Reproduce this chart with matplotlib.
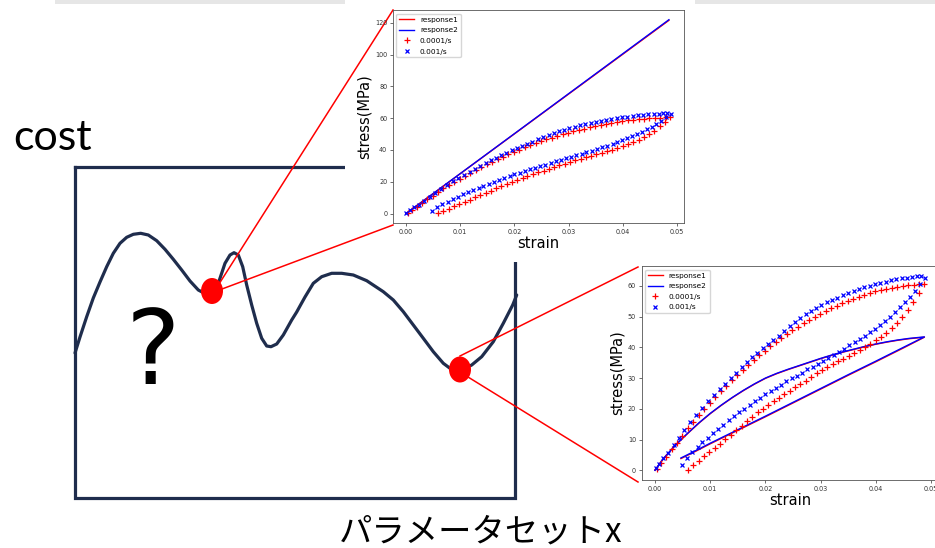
import matplotlib.pyplot as plt
from matplotlib.patches import Ellipse, Rectangle

'''sketch of a rugged cost landscape with two parameter sets zoomed into stress-strain fits'''

# ---- cost curve over parameter set x (canvas pixel units, y grows downward)
cost_x = [75, 80, 86.7, 93.3, 100, 106.7, 113.3, 120, 126.7, 133.3, 140.7, 148.3, 156.7, 165,
          173.3, 181.7, 190, 198.3, 203.3, 208, 213, 218.3, 225, 230, 234, 238.3, 242.7, 246.7,
          251.7, 256.7, 261.7, 266.7, 271, 276.7, 283.3, 291.7, 296.7, 300, 305, 313.3, 321.7,
          331.7, 341.7, 353.3, 366.7, 383.3, 393.3, 403.3, 413.3, 423.3, 433.3, 443.3, 450, 460,
          471.7, 481.7, 493.3, 503.3, 512.7, 516.7]
cost_y = [353, 337, 316.7, 298, 282, 266.7, 253.3, 243.3, 237.3, 234.3, 233.3, 235, 240.7, 249.3,
          259.3, 270, 281, 290, 292.7, 294, 291.5, 283.3, 263.3, 255, 252.7, 255, 266.7, 285,
          305, 323.3, 338.3, 346, 346.7, 344, 335, 320, 312, 306, 297, 283.3, 276.7,
          273.3, 273.3, 275, 280.7, 291.7, 300, 311.7, 325, 338.3, 351.7, 363.3, 368.3, 371,
          365, 356.7, 341.7, 323.3, 305, 295]

# the two sampled parameter sets on the curve
pick_x = [212, 460]
pick_y = [291, 369.5]

# ---- experimental data, 0.0001/s (red +)
slow_strain = [0.0003, 0.0011, 0.0020, 0.0030, 0.0039, 0.0049, 0.0059, 0.0069, 0.0079, 0.0089,
               0.0099, 0.0109, 0.0119, 0.0129, 0.0139, 0.0149, 0.0159, 0.0169, 0.0179, 0.0189,
               0.0199, 0.0209, 0.0219, 0.0229, 0.0239, 0.0249, 0.0259, 0.0269, 0.0279, 0.0289,
               0.0299, 0.0309, 0.0319, 0.0329, 0.0339, 0.0349, 0.0359, 0.0369, 0.0379, 0.0389,
               0.0399, 0.0409, 0.0419, 0.0429, 0.0439, 0.0449, 0.0459, 0.0469, 0.0479, 0.0487,
               0.0478, 0.0468, 0.0458, 0.0448, 0.0439, 0.0429, 0.0419, 0.0410, 0.0400, 0.0390,
               0.0380, 0.0371, 0.0361, 0.0351, 0.0341, 0.0332, 0.0322, 0.0312, 0.0302, 0.0293,
               0.0283, 0.0273, 0.0263, 0.0254, 0.0244, 0.0234, 0.0224, 0.0215, 0.0205, 0.0195,
               0.0186, 0.0176, 0.0166, 0.0157, 0.0147, 0.0137, 0.0127, 0.0118, 0.0108, 0.0098,
               0.0089, 0.0079, 0.0069, 0.0060]
slow_stress = [0.4, 2.3, 4.4, 6.8, 8.9, 11.3, 13.6, 15.8, 17.9, 19.9,
               21.9, 23.8, 25.7, 27.5, 29.3, 31.0, 32.7, 34.3, 35.9, 37.4,
               38.9, 40.3, 41.7, 43.0, 44.3, 45.5, 46.7, 47.8, 48.9, 49.9,
               50.9, 51.8, 52.7, 53.5, 54.3, 55.1, 55.8, 56.5, 57.1, 57.7,
               58.2, 58.7, 59.1, 59.4, 59.7, 60.0, 60.2, 60.4, 60.6, 60.7,
               57.6, 54.8, 52.2, 49.9, 48.0, 46.3, 44.8, 43.5, 42.3, 41.2,
               40.2, 39.2, 38.2, 37.3, 36.3, 35.4, 34.5, 33.5, 32.5, 31.5,
               30.3, 29.2, 28.1, 27.0, 25.9, 24.8, 23.6, 22.5, 21.3, 20.0,
               18.8, 17.4, 16.0, 14.5, 13.0, 11.6, 10.2, 8.7, 7.3, 5.9,
               4.5, 3.1, 1.7, 0.2]

# ---- experimental data, 0.001/s (blue x)
fast_strain = [0.0001, 0.0008, 0.0015, 0.0024, 0.0034, 0.0044, 0.0053, 0.0064, 0.0075, 0.0086,
               0.0096, 0.0107, 0.0118, 0.0127, 0.0137, 0.0147, 0.0157, 0.0166, 0.0176, 0.0185,
               0.0195, 0.0204, 0.0214, 0.0224, 0.0233, 0.0244, 0.0253, 0.0263, 0.0273, 0.0282,
               0.0292, 0.0301, 0.0312, 0.0321, 0.0330, 0.0341, 0.0350, 0.0360, 0.0369, 0.0379,
               0.0389, 0.0398, 0.0408, 0.0418, 0.0428, 0.0437, 0.0447, 0.0457, 0.0466, 0.0475,
               0.0482, 0.0489,
               0.0480, 0.0471, 0.0462, 0.0453, 0.0444, 0.0435, 0.0426, 0.0417, 0.0408, 0.0399,
               0.0390, 0.0381, 0.0371, 0.0362, 0.0352, 0.0343, 0.0333, 0.0324, 0.0314, 0.0305,
               0.0295, 0.0286, 0.0276, 0.0267, 0.0257, 0.0248, 0.0238, 0.0229, 0.0219, 0.0210,
               0.0200, 0.0191, 0.0181, 0.0172, 0.0162, 0.0153, 0.0143, 0.0134, 0.0124, 0.0115,
               0.0105, 0.0096, 0.0086, 0.0077, 0.0067, 0.0058, 0.0048]
fast_stress = [0.6, 2.0, 3.9, 5.6, 8.1, 10.6, 13.0, 15.6, 18.0, 20.3,
               22.4, 24.4, 26.4, 28.2, 30.0, 31.8, 33.5, 35.1, 36.7, 38.2,
               39.7, 41.1, 42.5, 43.8, 45.2, 46.8, 48.2, 49.6, 50.7, 51.8,
               52.8, 53.7, 54.6, 55.4, 56.2, 57.0, 57.7, 58.4, 59.0, 59.6,
               60.1, 60.6, 61.0, 61.4, 61.8, 62.1, 62.4, 62.7, 62.9, 63.2,
               63.3, 62.6,
               60.6, 58.4, 56.5, 54.7, 53.0, 51.4, 50.0, 48.6, 47.3, 46.1,
               44.9, 43.8, 42.7, 41.6, 40.6, 39.6, 38.6, 37.6, 36.6, 35.7,
               34.7, 33.7, 32.8, 31.8, 30.8, 29.9, 28.9, 27.9, 26.8, 25.8,
               24.7, 23.6, 22.4, 21.2, 20.0, 18.8, 17.5, 16.2, 14.8, 13.5,
               12.1, 10.6, 9.1, 7.5, 5.8, 4.0, 1.6]

# ---- model responses, first parameter set (elastic line)
resp1_a_strain = [0.0, 0.0485]
resp1_a_stress = [0.0, 121.5]
resp2_a_strain = [0.0, 0.0485]
resp2_a_stress = [0.0, 121.9]

# ---- model responses, second parameter set (load / unload loop)
resp_b_strain = [0.0, 0.001, 0.002, 0.003, 0.004, 0.005, 0.006, 0.008, 0.010, 0.012, 0.014,
                 0.016, 0.018, 0.020, 0.022, 0.024, 0.026, 0.028, 0.030, 0.032, 0.034, 0.036,
                 0.038, 0.040, 0.042, 0.044, 0.046, 0.0488,
                 0.045, 0.040, 0.035, 0.030, 0.025, 0.020, 0.015, 0.010, 0.0075, 0.0047]
resp2_b_stress = [0.0, 2.6, 4.8, 6.8, 8.7, 10.5, 12.2, 15.5, 18.5, 21.2, 23.7,
                  26.0, 28.1, 30.0, 31.5, 32.8, 34.0, 35.2, 36.4, 37.5, 38.5, 39.4,
                  40.3, 41.1, 41.8, 42.4, 42.9, 43.4,
                  40.0, 35.5, 31.1, 26.6, 22.1, 17.6, 13.2, 8.8, 6.5, 4.0]
resp1_b_stress = [0.0, 2.5, 4.7, 6.7, 8.6, 10.4, 12.1, 15.4, 18.4, 21.1, 23.6,
                  25.9, 28.0, 29.9, 31.4, 32.7, 33.9, 35.1, 36.3, 37.4, 38.4, 39.3,
                  40.2, 41.0, 41.7, 42.3, 42.8, 43.3,
                  39.8, 35.3, 30.9, 26.4, 21.9, 17.4, 13.0, 8.6, 6.3, 3.8]

slow_label = '0.0001/s'
fast_label = '0.001/s'
navy = '#1f2d4d'


fig = plt.figure(figsize=(9.35, 5.48), dpi=100)

# full-figure canvas in pixel units for the hand drawn part
canvas = fig.add_axes([0, 0, 1, 1])
canvas.set_xlim(0, 935)
canvas.set_ylim(548, 0)
canvas.axis('off')

# thin grey strip along the top of the slide
canvas.add_patch(Rectangle((55, 0), 880, 4, color='#e6e6e6', lw=0, zorder=1))

# frame of the cost plot
canvas.plot([75, 515, 515, 75, 75], [167, 167, 498, 498, 167], color=navy, lw=2.3,
            solid_joinstyle='miter', zorder=2)
canvas.plot(cost_x, cost_y, color=navy, lw=2.3, solid_joinstyle='round',
            solid_capstyle='round', zorder=3)

# white paper behind the upper stress-strain plot
canvas.add_patch(Rectangle((345, 0), 350, 262, color='white', lw=0, zorder=4))

for px, py in zip(pick_x, pick_y):
    canvas.add_patch(Ellipse((px, py), 22, 26, color='red', lw=0, zorder=5))

# zoom lines from each point to its plot
canvas.plot([219, 393], [284, 10], color='red', lw=1.1, zorder=6)
canvas.plot([222, 393], [289, 225], color='red', lw=1.1, zorder=6)
canvas.plot([460, 638], [356, 267], color='red', lw=1.1, zorder=6)
canvas.plot([468, 638], [377, 482], color='red', lw=1.1, zorder=6)

canvas.text(13, 150, 'cost', fontsize=31, family='Lato', va='baseline', ha='left')
canvas.text(153, 356, '?', fontsize=74, va='center', ha='center')
canvas.text(481, 532, 'パラメータセットx', fontsize=24, va='center', ha='center',
            family=['Noto Sans CJK JP', 'DejaVu Sans'])


def stress_strain_panel(rect, r1_x, r1_y, r2_x, r2_y):
    ''' draws one stress-strain plot with both model responses and the test data '''
    ax = fig.add_axes(rect)
    ax.plot(r1_x, r1_y, color='r', lw=1.0, label='response1')
    ax.plot(r2_x, r2_y, color='b', lw=1.0, label='response2')
    ax.plot(slow_strain, slow_stress, '+', color='r', ms=3.8, mew=0.9, label=slow_label)
    ax.plot(fast_strain, fast_stress, 'x', color='b', ms=3.3, mew=0.9, label=fast_label)
    ax.set_xlabel('strain', fontsize=10.5, labelpad=1)
    ax.set_ylabel('stress(MPa)', fontsize=10.5, labelpad=2)
    ax.set_xticks([0.0, 0.01, 0.02, 0.03, 0.04, 0.05])
    ax.tick_params(labelsize=4.7, length=2, width=0.5, pad=2, colors='#333333')
    for sp in ax.spines.values():
        sp.set_linewidth(0.6)
        sp.set_color('#555555')
    ax.legend(loc='upper left', fontsize=5.3, borderpad=0.4, handlelength=2.0,
              labelspacing=0.6, edgecolor='#cccccc')
    return ax


top = stress_strain_panel([0.4200, 0.5925, 0.3119, 0.3892],
                          resp1_a_strain, resp1_a_stress, resp2_a_strain, resp2_a_stress)
top.set_yticks([0, 20, 40, 60, 80, 100, 120])

bottom = stress_strain_panel([0.6861, 0.1241, 0.3176, 0.3905],
                             resp_b_strain, resp1_b_stress, resp_b_strain, resp2_b_stress)
bottom.set_yticks([0, 10, 20, 30, 40, 50, 60])

plt.savefig('out.png', dpi=100)
